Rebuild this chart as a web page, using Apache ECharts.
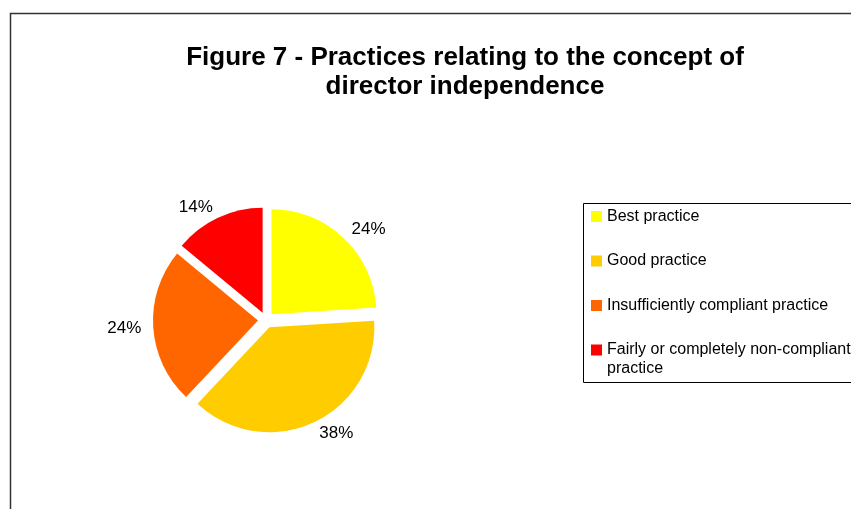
<!DOCTYPE html>
<html>
<head>
<meta charset="utf-8">
<script src="https://cdn.jsdelivr.net/npm/echarts@6/dist/echarts.min.js"></script>
<style>
  html, body { margin: 0; padding: 0; background: #fff; }
  #chart { width: 851px; height: 509px; }
</style>
</head>
<body>
<div id="chart"></div>
<script>
// Share of practices observed for director independence
const categories = [
  'Best practice',
  'Good practice',
  'Insufficiently compliant practice',
  'Fairly or completely non-compliant practice'
];
// legend text: first line beside the swatch, optional wrapped second line
const legendFirstLines = [
  'Best practice',
  'Good practice',
  'Insufficiently compliant practice',
  'Fairly or completely non-compliant'
];
const legendWrapLines = ['', '', '', 'practice'];
const shares = [24, 38, 24, 14];
const colors = ['#FFFF00', '#FFCC00', '#FF6600', '#FF0000'];

const chart = echarts.init(document.getElementById('chart'), null, { renderer: 'canvas' });

const font = '"Liberation Sans", Arial, sans-serif';

// legend geometry
const legendLeft = 586;
const legendTop = 202;
const swatch = 11;
const legendLineHeight = 19;
const legendStep = 44.5;
const legendGap = legendStep - legendLineHeight;

// wrapped continuation lines sit just below their legend entry
const wrapTexts = [];
legendWrapLines.forEach((line, i) => {
  if (!line) return;
  const firstCenter = legendTop + 5 + (legendLineHeight - swatch) / 2 + swatch / 2 + i * legendStep;
  wrapTexts.push({
    type: 'text',
    left: legendLeft + 5 + swatch + 5,
    top: firstCenter + legendLineHeight / 2,
    silent: true,
    style: {
      text: line,
      font: '16px ' + font,
      fill: '#000',
      lineHeight: legendLineHeight,
      verticalAlign: 'top'
    }
  });
});

chart.setOption({
  animation: false,
  backgroundColor: '#ffffff',
  title: {
    text: 'Figure 7 - Practices relating to the concept of\ndirector independence',
    left: 460,
    top: 38,
    textAlign: 'center',
    textStyle: {
      fontFamily: font,
      fontWeight: 'bold',
      fontSize: 26,
      lineHeight: 29,
      color: '#000'
    }
  },
  legend: {
    orient: 'vertical',
    left: legendLeft,
    top: legendTop,
    itemWidth: swatch,
    itemHeight: swatch,
    itemGap: legendGap,
    icon: 'rect',
    selectedMode: false,
    data: categories,
    formatter: function (name) {
      return legendFirstLines[categories.indexOf(name)];
    },
    textStyle: {
      fontFamily: font,
      fontSize: 16,
      color: '#000',
      lineHeight: legendLineHeight
    }
  },
  graphic: [
    {
      type: 'rect',
      shape: { x: 10.5, y: 13.5, width: 900, height: 600 },
      style: { fill: null, stroke: '#333', lineWidth: 1.5 },
      silent: true
    },
    {
      type: 'rect',
      shape: { x: 583.5, y: 203.5, width: 400, height: 179 },
      style: { fill: null, stroke: '#000', lineWidth: 1 },
      silent: true
    }
  ].concat(wrapTexts),
  series: [
    {
      type: 'pie',
      center: [266, 320],
      radius: [0, 105],
      startAngle: 90,
      clockwise: true,
      selectedMode: 'multiple',
      selectedOffset: 8,
      emphasis: { disabled: true },
      label: {
        show: true,
        position: 'outside',
        formatter: '{c}%',
        fontFamily: font,
        fontSize: 17,
        color: '#000',
        distanceToLabelLine: 0
      },
      labelLine: { show: false, length: 12, length2: 0 },
      itemStyle: { borderWidth: 0 },
      data: categories.map((name, i) => ({
        name: name,
        value: shares[i],
        selected: true,
        itemStyle: { color: colors[i] }
      }))
    }
  ]
});
</script>
</body>
</html>
